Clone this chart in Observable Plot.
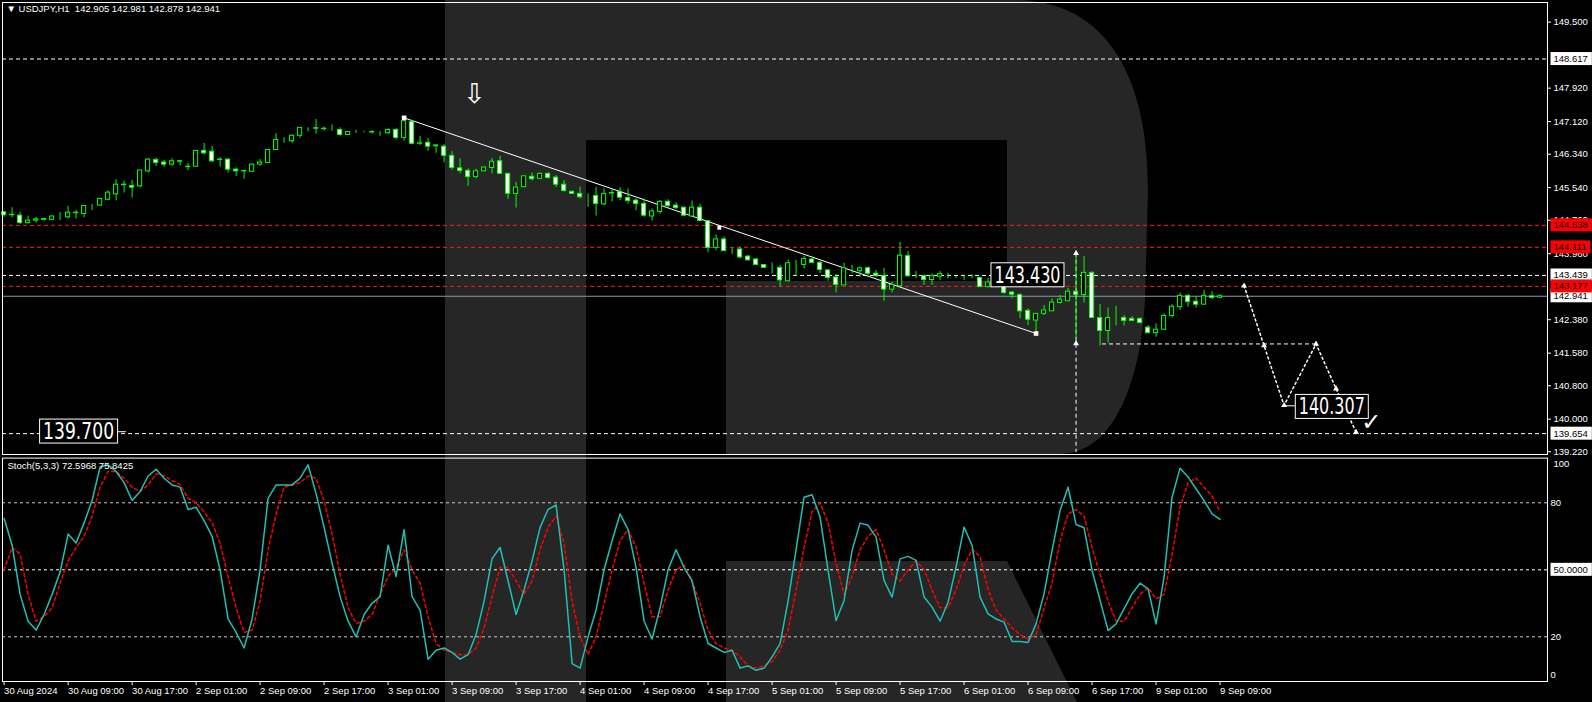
<!DOCTYPE html>
<html><head><meta charset="utf-8">
<script src="https://cdn.jsdelivr.net/npm/d3@7"></script>
<script src="https://cdn.jsdelivr.net/npm/@observablehq/plot@0.6"></script>
<style>
html,body{margin:0;padding:0;background:#000;}
#wrap{position:relative;width:1592px;height:702px;background:#000;overflow:hidden;font-family:"Liberation Sans",Arial,sans-serif;}
#wrap > svg{position:absolute;left:0;}
</style></head><body><div id="wrap"></div>
<script>
// ---------- DATA ----------
const symbolHeader = "\u25BC USDJPY,H1  142.905 142.981 142.878 142.941";
const stochHeader = "Stoch(5,3,3) 72.5968 75.8425";
const timeLabels = ["30 Aug 2024","30 Aug 09:00","30 Aug 17:00","2 Sep 01:00","2 Sep 09:00","2 Sep 17:00","3 Sep 01:00","3 Sep 09:00","3 Sep 17:00","4 Sep 01:00","4 Sep 09:00","4 Sep 17:00","5 Sep 01:00","5 Sep 09:00","5 Sep 17:00","6 Sep 01:00","6 Sep 09:00","6 Sep 17:00","9 Sep 01:00","9 Sep 09:00"];
const timeTickBars = [0,8,16,24,32,40,48,56,64,72,80,88,96,104,112,120,128,136,144,152];
const priceTicks = [149.5,147.92,147.12,146.34,145.54,144.76,143.96,142.38,141.58,140.8,140.0,139.22];

const open = [144.95,144.88,144.87,144.69,144.75,144.77,144.77,144.85,144.83,144.94,
144.91,145.10,145.11,145.25,145.38,145.61,145.58,145.57,145.93,146.20,
146.14,146.09,146.17,146.04,146.04,146.42,146.40,146.20,146.21,145.97,
145.93,145.92,146.09,146.13,146.44,146.68,146.65,146.78,146.96,146.96,
146.95,146.94,146.92,146.80,146.87,146.87,146.87,146.86,146.84,146.92,
146.73,147.11,146.59,146.61,146.53,146.52,146.30,146.00,145.94,145.79,
145.93,146.01,146.17,145.87,145.39,145.55,145.80,145.75,145.87,145.78,
145.61,145.44,145.39,145.34,145.34,145.14,145.40,145.44,145.29,145.23,
145.15,144.85,144.96,145.20,145.11,145.06,144.85,145.06,144.74,144.10,
144.30,144.06,144.06,143.89,143.82,143.69,143.62,143.62,143.30,143.72,
143.69,143.82,143.74,143.56,143.39,143.20,143.60,143.54,143.61,143.48,
143.43,143.10,143.18,143.90,143.42,143.42,143.33,143.41,143.42,143.40,
143.40,143.40,143.38,143.16,143.26,143.20,143.03,142.97,142.59,142.36,
142.52,142.58,142.78,142.82,143.05,142.97,143.50,142.42,142.11,142.42,
142.42,142.40,142.40,142.19,142.06,142.14,142.47,142.68,142.95,142.81,
142.74,142.94,142.905];
const high = [144.97,145.06,144.94,144.86,144.83,144.80,144.86,144.94,145.09,144.99,
145.10,145.14,145.29,145.46,145.73,145.69,145.71,145.95,146.24,146.25,
146.19,146.23,146.19,146.12,146.43,146.60,146.53,146.26,146.23,146.01,
145.95,146.10,146.21,146.45,146.83,146.73,146.80,146.97,146.97,147.17,
146.99,147.04,146.97,146.88,146.91,146.89,146.90,146.88,146.95,146.95,
147.24,147.15,146.76,146.71,146.56,146.57,146.40,146.23,145.99,145.98,
146.03,146.24,146.29,145.87,145.67,145.82,145.89,145.89,145.89,145.83,
145.71,145.46,145.55,145.39,145.55,145.51,145.50,145.54,145.51,145.27,
145.27,145.03,145.23,145.25,145.18,145.07,145.22,145.14,144.75,144.41,
144.36,144.10,144.12,143.92,143.85,143.70,143.74,143.68,143.81,143.80,
143.89,143.88,143.78,143.57,143.46,143.73,143.68,143.64,143.64,143.56,
143.61,143.28,144.23,144.01,143.53,143.45,143.48,143.53,143.49,143.42,
143.44,143.45,143.39,143.37,143.27,143.21,143.05,143.00,142.64,142.52,
142.72,142.88,142.96,143.13,143.96,143.89,143.53,142.74,142.66,142.70,
142.48,142.46,142.42,142.24,142.28,142.52,142.74,143.02,142.98,142.94,
143.08,143.05,142.981];
const low = [144.83,144.82,144.66,144.67,144.69,144.74,144.76,144.75,144.79,144.79,
144.82,144.99,145.10,145.22,145.22,145.41,145.29,145.53,145.89,146.05,
146.03,146.05,146.06,145.95,146.03,146.32,146.14,146.03,145.89,145.81,
145.74,145.91,146.05,146.12,146.43,146.60,146.60,146.72,146.88,146.82,
146.89,146.89,146.77,146.79,146.84,146.85,146.82,146.77,146.82,146.68,
146.65,146.56,146.55,146.41,146.36,146.13,145.96,145.87,145.57,145.75,
145.92,145.87,145.87,145.26,145.05,145.54,145.70,145.73,145.74,145.54,
145.43,145.38,145.27,145.07,144.86,145.11,145.20,145.23,145.15,144.99,
144.83,144.74,144.91,145.05,145.02,144.84,144.85,144.74,143.98,144.04,
144.01,143.94,143.83,143.78,143.68,143.61,143.48,143.16,143.29,143.42,
143.59,143.72,143.48,143.30,143.02,143.20,143.48,143.40,143.44,143.40,
142.82,143.02,143.18,143.40,143.36,143.20,143.20,143.32,143.36,143.37,
143.32,143.36,143.15,143.14,143.19,142.98,142.88,142.40,142.24,142.08,
142.48,142.58,142.76,142.82,141.92,142.78,142.42,141.75,141.82,142.23,
142.23,142.35,142.28,142.04,141.96,142.12,142.42,142.60,142.68,142.66,
142.73,142.86,142.878];
const close = [144.88,144.89,144.69,144.75,144.78,144.79,144.85,144.85,144.94,144.93,
145.10,145.10,145.27,145.42,145.61,145.60,145.54,145.95,146.21,146.13,
146.09,146.17,146.16,146.03,146.42,146.36,146.17,146.21,145.97,145.93,
145.94,146.09,146.14,146.44,146.68,146.68,146.78,146.97,146.96,146.95,
146.94,146.94,146.80,146.87,146.87,146.87,146.86,146.86,146.92,146.73,
147.13,146.59,146.60,146.52,146.55,146.30,146.01,145.94,145.79,145.93,
146.02,146.16,145.87,145.39,145.54,145.81,145.74,145.87,145.77,145.61,
145.46,145.39,145.31,145.34,145.15,145.39,145.41,145.30,145.22,145.15,
144.87,144.97,145.20,145.10,145.05,144.87,145.06,144.74,144.10,144.30,
144.02,144.06,143.87,143.80,143.69,143.62,143.62,143.32,143.73,143.72,
143.83,143.74,143.57,143.38,143.21,143.61,143.60,143.61,143.48,143.42,
143.10,143.21,143.91,143.42,143.42,143.33,143.42,143.47,143.42,143.40,
143.40,143.40,143.16,143.27,143.20,143.02,142.98,142.58,142.38,142.52,
142.60,142.79,142.86,143.05,142.97,143.50,142.42,142.11,142.42,142.42,
142.35,142.35,142.30,142.06,142.14,142.47,142.69,142.95,142.80,142.74,
142.95,142.90,142.941];

const stochK = [73,61,39,27,23,30,39,49,66,62,
71,81,96,97,94,89,81,85,92,95,
91,88,87,77,78,72,65,50,28,22,
15,28,50,82,88,88,88,91,97,84,
69,53,38,27,20,30,35,38,61,47,
68,38,32,10,14,15,13,10,12,21,
36,55,60,45,30,41,54,69,77,79,
50,8,6,20,32,50,63,75,68,51,
27,19,33,50,59,51,45,29,17,15,
13,14,6,7,5,6,11,17,36,59,
82.5,83.6,73.6,49.7,27.3,36.3,58.7,70.9,69.9,64.6,
45.2,37.8,54.9,56,54.2,37.8,33.3,27,35.5,51.2,
69.1,60.9,37.8,30.3,28,26.6,17.9,17.9,17.5,25.8,
39.3,58.7,76.6,87,70.3,68.8,49.7,36.3,22.8,25.8,
32.5,39.3,44,41.5,25.8,46.7,82.5,95.5,91.5,86.3,
81,75,72.6];
const stochD = [50,60,57,39,27,29,33,44,54,60,
65,74,87,94,94,91,87,85,88,93,
92,90,88,82,80,76,71,62,47,33,
22,23,36,59,75,87,88,89,92,91,
81,66,48,33,26,27,30,39,47,51,
59,50,44,29,17,14,13,12,12,15,
24,38,51,51,45,39,45,59,69,74,
62,36,20,12,20,35,50,63,68,60,
44,29,29,41,50,52,45,35,23,17,
15,14,11,7,6,7,9,14,23,41,
60,76,80,71,53,39,47,59,65,68,
59,48,45,50,54,50,41,33,33,41,
52,59,56,41,32,28,24,21,19,21,
33,44,63,75,77,74,60,48,36,27,
27,33,39,42,37,39,57,78,89,91,
87,83,76];

const whiteLevels = [148.617, 143.439, 139.654];
const redLevels = [144.638, 144.111, 143.177];
const bidLevel = 142.941;
const whiteBoxes = [148.617, 143.439, 142.941, 139.654];
const redBoxes = [144.638, 144.111, 143.177];

// drawn objects (bar index, price)
const trendline = [{i:50, p:147.21}, {i:129, p:142.05}];
const trendAnchor = [{i:89.4, p:144.58}];
const forecast = [{i:155,p:143.19},{i:157.5,p:141.76},{i:160,p:140.33},{i:164,p:141.80},{i:166.5,p:140.73},{i:169,p:139.69}];
const rangeLine = [{i:134, p1:143.97, p2:139.2}];
const rangeMarks = [{i:134,p:143.97},{i:134,p:141.81}];
const supportLine = [{p:141.80, i1:137.3, i2:164}];
const bigLabels = [{i:123.8, p:143.439, t:"143.430"},{i:161.84, p:140.29, t:"140.307"},{i:4.875, p:139.70, t:"139.700"}];
const labelLeaders = [{p:139.70, i1:14.3, i2:15.3},{p:140.32, i1:160, i2:161.4}];
const arrowMark = [{i:58.8, p:147.77, t:"\u21E9"}];
const checkMark = [{i:170.9, p:139.93, t:"\u2713"}];
const stochLevels = {upper:[80,20], mid:[50]};

// ---------- BUILD ----------
const bars = d3.range(open.length).map(i => ({i, o:open[i], h:high[i], l:low[i], c:close[i], k:stochK[i], d:stochD[i]}));
const xDomain = [-0.2, 192.93];
const W = 1592;
const fmt3 = d3.format(".3f");
const GREEN = "#00ff00";
const FONT = "Liberation Sans, Arial, sans-serif";

const wrap = document.getElementById("wrap");

// background watermark (decorative logo)
const wm = d3.create("svg").attr("width", W).attr("height", 702).style("top", "0px");
const wmFill = "#262626";
wm.append("path").attr("fill", wmFill).attr("d", "M445,0H586V702H445Z");
wm.append("path").attr("fill", wmFill).attr("d", "M586,0H1015C1095,0 1148,60 1148,190L1145,300C1140,390 1110,454 1060,454H726V281H1007V140H586Z");
wm.append("path").attr("fill", wmFill).attr("d", "M726,561H1007L1077,702H726Z");
wrap.appendChild(wm.node());

const main = Plot.plot({
  width: W, height: 457, marginTop: 2, marginBottom: 3, marginLeft: 2, marginRight: 45,
  style: {background: "transparent", color: "#fff", fontFamily: FONT, fontSize: "9px"},
  x: {domain: xDomain, axis: null},
  y: {domain: [139.155, 149.969], axis: null},
  marks: [
    Plot.axisY(priceTicks, {anchor: "right", tickSize: 3, tickPadding: 3, tickFormat: fmt3, color: "#fff", fontSize: 9.5, label: null}),
    Plot.ruleY(whiteLevels, {stroke: "#fff", strokeDasharray: "4,3"}),
    Plot.ruleY(redLevels, {stroke: "#ff1a1a", strokeDasharray: "4,3"}),
    Plot.ruleY([bidLevel], {stroke: "#8899aa"}),
    Plot.ruleY(supportLine, {y: "p", x1: "i1", x2: "i2", stroke: "#fff", strokeDasharray: "4,3"}),
    Plot.ruleX(rangeLine, {x: "i", y1: "p1", y2: "p2", stroke: "#fff", strokeDasharray: "4,3"}),
    Plot.line(trendline, {x: "i", y: "p", stroke: "#fff", strokeWidth: 1}),
    Plot.line(forecast, {x: "i", y: "p", stroke: "#fff", strokeDasharray: "2,3"}),
    // candles
    Plot.ruleX(bars, {x: "i", y1: "l", y2: "h", stroke: GREEN}),
    Plot.rect(bars, {x1: d => d.i - 0.26, x2: d => d.i + 0.26, y1: "o", y2: "c",
      fill: d => d.c >= d.o ? "#000" : "#fff", stroke: GREEN, strokeWidth: 1}),
    Plot.dot(trendline, {x: "i", y: "p", symbol: "square", r: 2.6, fill: "#fff"}),
    Plot.dot(trendAnchor, {x: "i", y: "p", symbol: "square", r: 2.2, fill: "#fff"}),
    Plot.dot(forecast, {x: "i", y: "p", symbol: "triangle", r: 2.2, fill: "#fff"}),
    Plot.dot(rangeMarks, {x: "i", y: "p", symbol: "triangle", r: 2.2, fill: "#fff"}),
    Plot.ruleY(labelLeaders, {y: "p", x1: "i1", x2: "i2", stroke: "#fff"}),
    Plot.text(bigLabels, {x: "i", y: "p", text: "t", textAnchor: "start", fill: "#fff", fontSize: 23, fontFamily: "DejaVu Sans Condensed, DejaVu Sans"}),
    Plot.text(arrowMark, {x: "i", y: "p", text: "t", fill: "#fff", fontSize: 27, fontFamily: "DejaVu Sans"}),
    Plot.text(checkMark, {x: "i", y: "p", text: "t", fill: "#fff", fontSize: 24, fontFamily: "DejaVu Sans"}),
    Plot.text([symbolHeader], {frameAnchor: "top-left", textAnchor: "start", lineAnchor: "top", dx: 4, dy: 3, fill: "#fff", fontSize: 9.5}),
    Plot.text(whiteBoxes, {y: d => d, text: d => fmt3(d), frameAnchor: "right", textAnchor: "start", dx: 6, fill: "#000", fontSize: 9.5}),
    Plot.text(redBoxes, {y: d => d, text: d => fmt3(d), frameAnchor: "right", textAnchor: "start", dx: 6, fill: "#000", fontSize: 9.5}),
    Plot.frame({stroke: "#fff"})
  ]
});
main.style.top = "0px";
wrap.appendChild(main);

const stoch = Plot.plot({
  width: W, height: 246, marginTop: 1.6, marginBottom: 21, marginLeft: 2, marginRight: 45,
  style: {background: "transparent", color: "#fff", fontFamily: FONT, fontSize: "9px"},
  x: {domain: xDomain, axis: null},
  y: {domain: [0, 100], axis: null},
  marks: [
    Plot.ruleY(stochLevels.upper, {stroke: "#c8c8c8", strokeDasharray: "3,3"}),
    Plot.ruleY(stochLevels.mid, {stroke: "#fff", strokeDasharray: "3,3"}),
    Plot.line(bars, {x: "i", y: "d", stroke: "#ff0000", strokeDasharray: "3,3"}),
    Plot.line(bars, {x: "i", y: "k", stroke: "#20c0b4"}),
    Plot.axisX(timeTickBars, {anchor: "bottom", tickSize: 4, tickPadding: 2, tickFormat: d => timeLabels[Math.round(d / 8)], textAnchor: "start", dx: 0, color: "#fff", fontSize: 9.5, label: null}),
    Plot.text([stochHeader], {frameAnchor: "top-left", textAnchor: "start", lineAnchor: "top", dx: 5, dy: 4, fill: "#fff", fontSize: 9.5}),
    Plot.text([100], {y: d => d, text: d => String(d), frameAnchor: "right", textAnchor: "start", dx: 6, dy: 6, fill: "#fff", fontSize: 9.5}),
    Plot.text(stochLevels.upper, {y: d => d, text: d => String(d), frameAnchor: "right", textAnchor: "start", dx: 3, fill: "#fff", fontSize: 9.5}),
    Plot.text([0], {y: d => d, text: d => String(d), frameAnchor: "right", textAnchor: "start", dx: 3, dy: -7, fill: "#fff", fontSize: 9.5}),
    Plot.text(stochLevels.mid, {y: d => d, text: d => d3.format(".4f")(d), frameAnchor: "right", textAnchor: "start", dx: 6, fill: "#000", fontSize: 9.5}),
    Plot.frame({stroke: "#fff"})
  ]
});
stoch.style.top = "456px";
wrap.appendChild(stoch);

// boxes behind texts (matched by their text content); copy the text's own transform
function boxify(svg, contents, fill, stroke, padL, padR, h, fixedLen) {
  const set = new Set(contents);
  svg.querySelectorAll("text").forEach(t => {
    if (!set.has(t.textContent)) return;
    if (t.closest('g[aria-label*="axis"]')) return;
    if (fixedLen) { t.setAttribute("textLength", fixedLen(t.textContent)); t.setAttribute("lengthAdjust", "spacingAndGlyphs"); }
    const b = t.getBBox();
    const cy = b.y + b.height / 2;
    const r = document.createElementNS("http://www.w3.org/2000/svg", "rect");
    r.setAttribute("x", b.x - padL); r.setAttribute("y", cy - h / 2);
    r.setAttribute("width", b.width + padL + padR); r.setAttribute("height", h);
    r.setAttribute("fill", fill);
    const tr = t.getAttribute("transform");
    if (tr) r.setAttribute("transform", tr);
    if (stroke) { r.setAttribute("stroke", stroke); r.setAttribute("stroke-width", 1); }
    t.parentNode.insertBefore(r, t);
  });
}
boxify(main, whiteBoxes.map(fmt3), "#fff", null, 3, 4, 13);
boxify(main, redBoxes.map(fmt3), "#ff0000", null, 3, 4, 13);
boxify(stoch, stochLevels.mid.map(d3.format(".4f")), "#fff", null, 3, 4, 13);
boxify(main, bigLabels.map(d => d.t), "#000", "#fff", 3.5, 3.5, 24, s => s === "139.700" ? 71 : 66);
</script></body></html>
